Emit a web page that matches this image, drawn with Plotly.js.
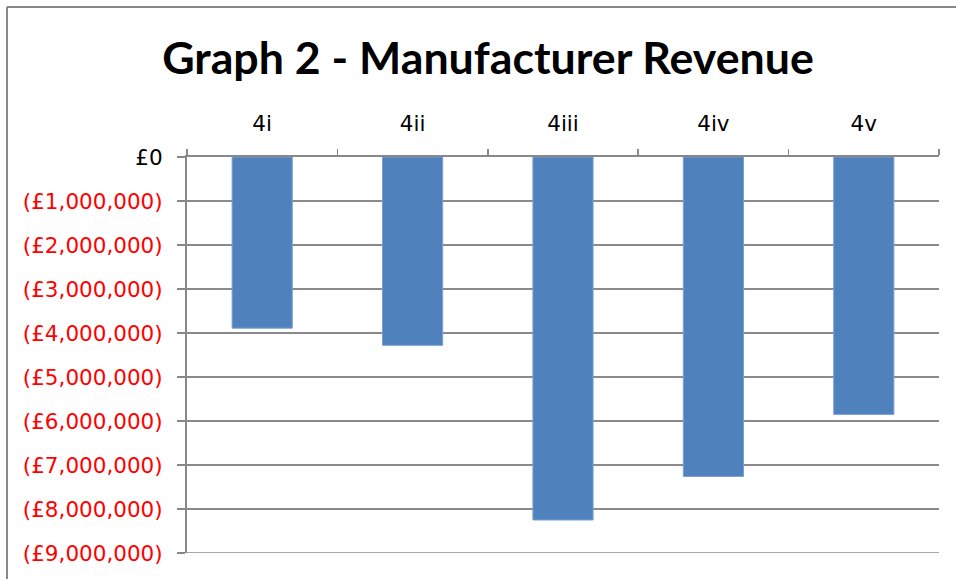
<!DOCTYPE html>
<html>
<head>
<meta charset="utf-8">
<script src="https://cdn.plot.ly/plotly-3.0.1.min.js"></script>
<style>html,body{margin:0;padding:0;background:#fff;}#chart{width:956px;height:579px;}</style>
</head>
<body>
<div id="chart"></div>
<script>
var categories = ["4i", "4ii", "4iii", "4iv", "4v"];
var revenue = [-3890000, -4280000, -8250000, -7260000, -5850000];
var tickValues = [0, -1000000, -2000000, -3000000, -4000000, -5000000, -6000000, -7000000, -8000000, -9000000];
var tickLabels = ["£0", "(£1,000,000)", "(£2,000,000)", "(£3,000,000)", "(£4,000,000)", "(£5,000,000)", "(£6,000,000)", "(£7,000,000)", "(£8,000,000)", "(£9,000,000)"];

var ticktext = tickLabels.map(function (t, i) {
  return tickValues[i] < 0 ? t : '<span style="color:#000000">' + t + '</span>';
});

var L = 187, R = 17, T = 157, B = 26;
var pw = 956 - L - R, ph = 579 - T - B;
var bx = (7 - L) / pw, by = 1 + (T - 7) / ph;

var data = [{
  type: 'bar',
  x: categories,
  y: revenue,
  width: 0.4,
  marker: {color: '#4F81BD', line: {color: '#7a9fd0', width: 1}},
  hoverinfo: 'x+y'
}];

var layout = {
  width: 956, height: 579,
  margin: {l: L, r: R, t: T, b: B, pad: 0},
  paper_bgcolor: '#ffffff', plot_bgcolor: '#ffffff',
  showlegend: false,
  title: {
    text: '<b>Graph 2 - Manufacturer Revenue</b>',
    font: {family: 'Lato, sans-serif', size: 44.7, color: '#000000'},
    x: 488 / 956, xref: 'container', xanchor: 'center',
    y: 1 - 58 / 579, yref: 'container', yanchor: 'middle'
  },
  xaxis: {
    type: 'category',
    side: 'top',
    showline: true, linecolor: '#888888', linewidth: 2,
    ticks: 'outside', tickson: 'boundaries', ticklen: 6, tickcolor: '#888888', tickwidth: 1.5,
    showgrid: false, zeroline: false,
    tickfont: {family: 'DejaVu Sans, sans-serif', size: 21.5, color: '#000000'},
    ticklabelstandoff: 15,
    fixedrange: true
  },
  yaxis: {
    range: [-9000000, 0],
    tickvals: tickValues, ticktext: ticktext,
    showline: true, linecolor: '#888888', linewidth: 2,
    ticks: 'outside', ticklen: 8, tickcolor: '#888888', tickwidth: 1.5,
    showgrid: true, gridcolor: '#8a8a8a', gridwidth: 1.5,
    zeroline: false,
    tickfont: {family: 'DejaVu Sans, sans-serif', size: 21.5, color: '#ff0000'},
    ticklabelstandoff: 10,
    fixedrange: true
  },
  shapes: [
    {type: 'line', xref: 'paper', yref: 'y', x0: 0, x1: 1, y0: tickValues[tickValues.length - 1], y1: tickValues[tickValues.length - 1], line: {color: '#8a8a8a', width: 1.5}},
    {type: 'line', xref: 'paper', yref: 'paper', x0: bx, x1: bx, y0: -0.2, y1: by, line: {color: '#888888', width: 2}},
    {type: 'line', xref: 'paper', yref: 'paper', x0: bx, x1: 1.1, y0: by, y1: by, line: {color: '#888888', width: 2}}
  ]
};

Plotly.newPlot('chart', data, layout, {displayModeBar: false, staticPlot: true});
</script>
</body>
</html>
